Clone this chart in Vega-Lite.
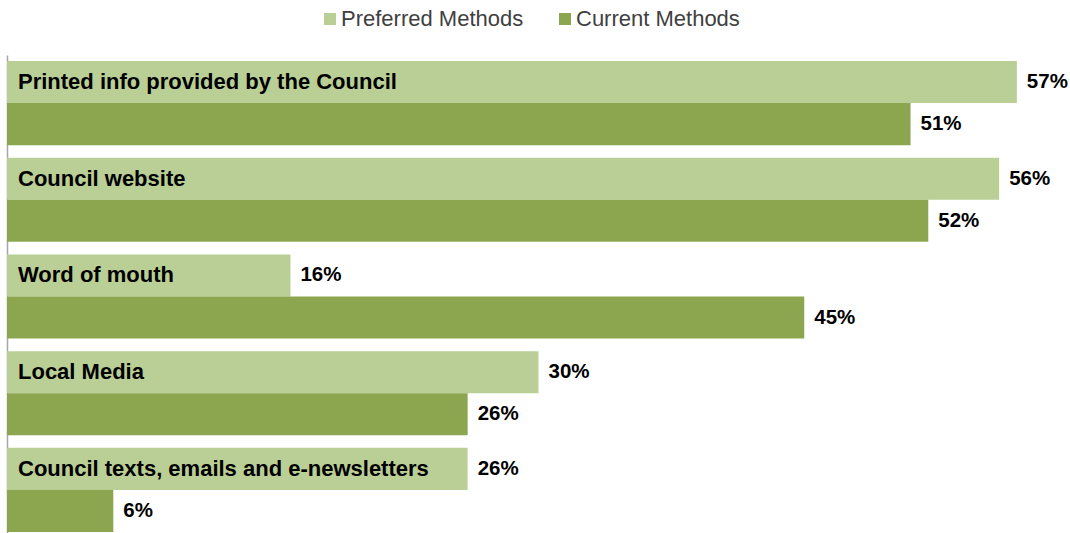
{
  "$schema": "https://vega.github.io/schema/vega-lite/v6.json",
  "autosize": {"type": "none"},
  "padding": {"left": 7, "top": 55, "right": 0, "bottom": 0},
  "width": 1063,
  "height": 483,
  "background": "white",
  "config": {"view": {"stroke": null}, "font": "Liberation Sans"},
  "data": {"values": [
    {"cat": "Printed info provided by the Council", "series": "Preferred Methods", "value": 57, "label": "57%"},
    {"cat": "Printed info provided by the Council", "series": "Current Methods", "value": 51, "label": "51%"},
    {"cat": "Council website", "series": "Preferred Methods", "value": 56, "label": "56%"},
    {"cat": "Council website", "series": "Current Methods", "value": 52, "label": "52%"},
    {"cat": "Word of mouth", "series": "Preferred Methods", "value": 16, "label": "16%"},
    {"cat": "Word of mouth", "series": "Current Methods", "value": 45, "label": "45%"},
    {"cat": "Local Media", "series": "Preferred Methods", "value": 30, "label": "30%"},
    {"cat": "Local Media", "series": "Current Methods", "value": 26, "label": "26%"},
    {"cat": "Council texts, emails and e-newsletters", "series": "Preferred Methods", "value": 26, "label": "26%"},
    {"cat": "Council texts, emails and e-newsletters", "series": "Current Methods", "value": 6, "label": "6%"}
  ]},
  "encoding": {
    "y": {"field": "cat", "type": "nominal", "sort": null,
      "scale": {"paddingInner": 0.13, "paddingOuter": 0.062},
      "axis": {"labels": false, "ticks": false, "title": null, "domainColor": "#A6A6A6", "domainWidth": 1.5, "grid": false}},
    "yOffset": {"field": "series", "type": "nominal", "sort": ["Preferred Methods", "Current Methods"],
      "scale": {"paddingInner": 0, "paddingOuter": 0}},
    "x": {"field": "value", "type": "quantitative", "scale": {"domain": [0, 60], "nice": false}, "axis": null}
  },
  "layer": [
    {
      "mark": {"type": "bar", "cornerRadius": 0},
      "encoding": {
        "color": {"field": "series", "type": "nominal", "sort": ["Preferred Methods", "Current Methods"],
          "scale": {"domain": ["Preferred Methods", "Current Methods"], "range": ["#B9CF96", "#8BA64F"]},
          "legend": {"title": null, "orient": "none", "direction": "horizontal", "legendX": 312, "legendY": -47,
            "symbolType": "square", "symbolSize": 144, "symbolStrokeWidth": 0, "labelFontSize": 22, "labelColor": "#404040",
            "labelFont": "Liberation Sans", "labelLimit": 400, "columnPadding": 30, "symbolOffset": 0, "labelOffset": 0}}
      }
    },
    {
      "mark": {"type": "text", "align": "left", "baseline": "middle", "dx": 10, "fontSize": 20.5, "fontWeight": "bold", "color": "#000000"},
      "encoding": {"text": {"field": "label"}}
    },
    {
      "transform": [{"filter": "datum.series == 'Preferred Methods'"}],
      "mark": {"type": "text", "align": "left", "baseline": "middle", "dx": 11, "fontSize": 22, "fontWeight": "bold", "color": "#000000"},
      "encoding": {"x": {"datum": 0}, "text": {"field": "cat"}}
    }
  ]
}
